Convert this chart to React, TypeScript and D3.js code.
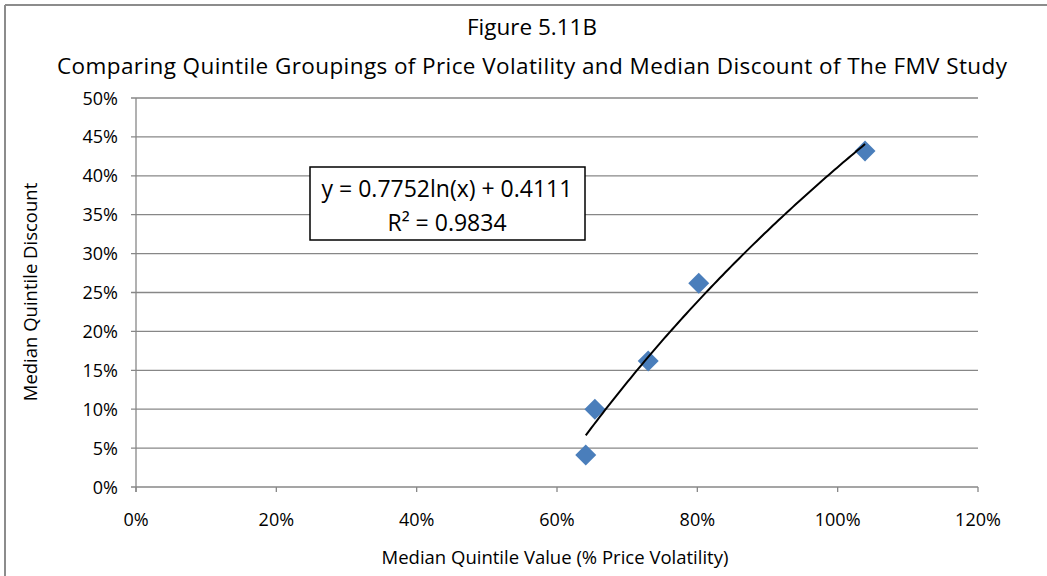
import React from "react";
import * as d3 from "d3";

const volatility = [0.641, 0.654, 0.730, 0.802, 1.039];
const discount = [0.041, 0.100, 0.162, 0.262, 0.432];
const trendCoefficients = [0.7752, 0.4111]; // y = a ln(x) + b
const equationLines = ["y = 0.7752ln(x) + 0.4111", "R² = 0.9834"];
const xTicks = [0, 0.2, 0.4, 0.6, 0.8, 1.0, 1.2];
const yTicks = [0, 0.05, 0.1, 0.15, 0.2, 0.25, 0.3, 0.35, 0.4, 0.45, 0.5];
const titleLines = [
  "Figure 5.11B",
  "Comparing Quintile Groupings of Price Volatility and Median Discount of The FMV Study",
];
const xAxisTitle = "Median Quintile Value (% Price Volatility)";
const yAxisTitle = "Median Quintile Discount";

const W = 1047;
const H = 576;
const FONT = "'Open Sans', 'Liberation Sans', sans-serif";

export default function App() {
  const x = d3.scaleLinear().domain([0, 1.2]).range([136, 978]);
  const y = d3.scaleLinear().domain([0, 0.5]).range([487, 98]);
  const pct = d3.format(".0%");

  const [a, b] = trendCoefficients;
  const xMin = d3.min(volatility) as number;
  const xMax = d3.max(volatility) as number;
  const trendX = d3.range(0, 101).map((i) => xMin + ((xMax - xMin) * i) / 100);
  const line = d3
    .line<number>()
    .x((v) => x(v))
    .y((v) => y(a * Math.log(v) + b));

  const diamond = d3.symbol().type(d3.symbolSquare).size(220)();

  return (
    <svg
      width={W}
      height={H}
      style={{ position: "absolute", left: 0, top: 0, background: "#fff" }}
      fontFamily={FONT}
    >
      <rect x={0} y={0} width={W} height={H} fill="#fff" />
      {/* outer border (cropped) */}
      <line x1={5} y1={5} x2={W} y2={5} stroke="#8c8c8c" strokeWidth={2} />
      <line x1={5} y1={5} x2={5} y2={H} stroke="#8c8c8c" strokeWidth={2} />

      {/* titles */}
      <text x={532} y={35} textAnchor="middle" fontSize={22.5} fill="#000">
        {titleLines[0]}
      </text>
      <text x={532} y={74} textAnchor="middle" fontSize={22.5} fill="#000"
        textLength={950} lengthAdjust="spacing">
        {titleLines[1]}
      </text>

      {/* gridlines */}
      {yTicks.map((t) => (
        <g key={"y" + t}>
          <line x1={131} x2={978} y1={y(t)} y2={y(t)} stroke="#878787" strokeWidth={1.3} />
          <text x={118} y={y(t) + 6.5} textAnchor="end" fontSize={18} fill="#000">
            {pct(t)}
          </text>
        </g>
      ))}
      {/* y axis */}
      <line x1={x(0)} x2={x(0)} y1={y(0.5)} y2={y(0) + 5} stroke="#878787" strokeWidth={1.3} />
      {/* x ticks */}
      {xTicks.map((t) => (
        <g key={"x" + t}>
          <line x1={x(t)} x2={x(t)} y1={y(0)} y2={y(0) + 5} stroke="#878787" strokeWidth={1.3} />
          <text x={x(t)} y={y(0) + 38.5} textAnchor="middle" fontSize={18} fill="#000">
            {pct(t)}
          </text>
        </g>
      ))}

      {/* axis titles */}
      <text x={555} y={564} textAnchor="middle" fontSize={18.5} fill="#000">
        {xAxisTitle}
      </text>
      <text
        transform={`translate(37, ${292}) rotate(-90)`}
        textAnchor="middle"
        fontSize={18.5}
        fill="#000"
      >
        {yAxisTitle}
      </text>

      {/* points */}
      {volatility.map((v, i) => (
        <path
          key={"p" + i}
          d={diamond as string}
          transform={`translate(${x(v)},${y(discount[i])}) rotate(45)`}
          fill="#4a7ebb"
        />
      ))}

      {/* trendline */}
      <path d={line(trendX) as string} fill="none" stroke="#000" strokeWidth={2} />

      {/* equation box */}
      <rect x={310} y={167} width={275} height={73} fill="#fff" stroke="#000" strokeWidth={1.5} />
      <text x={447} y={197} textAnchor="middle" fontSize={23} fill="#000">
        {equationLines[0]}
      </text>
      <text x={447} y={231} textAnchor="middle" fontSize={23} fill="#000">
        {equationLines[1]}
      </text>
    </svg>
  );
}
